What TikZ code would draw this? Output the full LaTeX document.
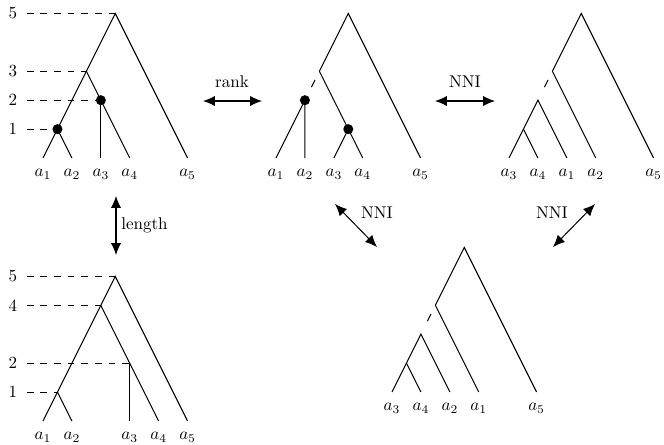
\documentclass[tikz,border=0pt]{standalone}
\usetikzlibrary{arrows.meta,calc}
\begin{document}
\begin{tikzpicture}[x=0.588pt,y=-0.588pt,
  edge/.style={line width=0.6pt},
  lev/.style={dash pattern=on 4pt off 4pt, line width=0.5pt},
  dotnode/.style={circle,fill,inner sep=0pt,minimum size=5.9pt},
  lbl/.style={inner sep=0pt},
  num/.style={inner sep=0pt},
  move/.style={{Latex[length=7pt,width=6pt]}-{Latex[length=7pt,width=6pt]}, line width=0.6pt},
  tree/.style={x=17pt,y=17pt}]
\useasboundingbox (0,0) rectangle (664,444);

% ---------- Tree 1 (top left) ----------
\begin{scope}[shift={(43,158)},tree]
  \coordinate (t1r) at (2.5,5);
  \coordinate (t1n3) at (1.5,3);
  \coordinate (t1n2) at (2,2);
  \coordinate (t1n1) at (0.5,1);
  \coordinate (t1l1) at (0,0);
  \coordinate (t1l2) at (1,0);
  \coordinate (t1l3) at (2,0);
  \coordinate (t1l4) at (3,0);
  \coordinate (t1l5) at (5,0);
  \draw[edge] (t1l1) -- (t1r) -- (t1l5);
  \draw[edge] (t1n3) -- (t1l4);
  \draw[edge] (t1n2) -- (t1l3);
  \draw[edge] (t1n1) -- (t1l2);
  \node[num] (t1h5) at (-1.04,5) {5};
  \node[num] (t1h3) at (-1.04,3) {3};
  \node[num] (t1h2) at (-1.04,2) {2};
  \node[num] (t1h1) at (-1.04,1) {1};
  \draw[lev] ([xshift=5.5pt]t1h5.east) -- (t1r);
  \draw[lev] ([xshift=5.5pt]t1h3.east) -- (t1n3);
  \draw[lev] ([xshift=5.5pt]t1h2.east) -- (t1n2);
  \draw[lev] ([xshift=5.5pt]t1h1.east) -- (t1n1);
  \node[dotnode] (t1d2) at (t1n2) {};
  \node[dotnode] (t1d1) at (t1n1) {};
  \node[lbl] (t1a1) at (0,-0.57) {$a_1$};
  \node[lbl] (t1a2) at (1,-0.57) {$a_2$};
  \node[lbl] (t1a3) at (2,-0.57) {$a_3$};
  \node[lbl] (t1a4) at (3,-0.57) {$a_4$};
  \node[lbl] (t1a5) at (5,-0.57) {$a_5$};
\end{scope}

% ---------- Tree 2 (top middle) ----------
\begin{scope}[shift={(276,158)},tree]
  \coordinate (t2r) at (2.5,5);
  \coordinate (t2n3) at (1.5,3);
  \coordinate (t2n2) at (1,2);
  \coordinate (t2n1) at (2.5,1);
  \coordinate (t2l1) at (0,0);
  \coordinate (t2l2) at (1,0);
  \coordinate (t2l3) at (2,0);
  \coordinate (t2l4) at (3,0);
  \coordinate (t2l5) at (5,0);
  \draw[edge] (t2n3) -- (t2r) -- (t2l5);
  \draw[edge] (t2n3) -- (t2n1);
  \draw[edge] (t2l1) -- (t2n2) -- (t2l2);
  \draw[edge] (t2l3) -- (t2n1) -- (t2l4);
  \draw[edge] ($(t2n3)!0.3!(t2n2)$) -- ($(t2n3)!0.55!(t2n2)$);
  \node[dotnode] (t2d2) at (t2n2) {};
  \node[dotnode] (t2d1) at (t2n1) {};
  \node[lbl] (t2a1) at (0,-0.57) {$a_1$};
  \node[lbl] (t2a2) at (1,-0.57) {$a_2$};
  \node[lbl] (t2a3) at (2,-0.57) {$a_3$};
  \node[lbl] (t2a4) at (3,-0.57) {$a_4$};
  \node[lbl] (t2a5) at (5,-0.57) {$a_5$};
\end{scope}

% ---------- Tree 3 (top right) ----------
\begin{scope}[shift={(509,158)},tree]
  \coordinate (t3r) at (2.5,5);
  \coordinate (t3n3) at (1.5,3);
  \coordinate (t3n2) at (1,2);
  \coordinate (t3n1) at (0.5,1);
  \coordinate (t3l1) at (0,0);
  \coordinate (t3l2) at (1,0);
  \coordinate (t3l3) at (2,0);
  \coordinate (t3l4) at (3,0);
  \coordinate (t3l5) at (5,0);
  \draw[edge] (t3n3) -- (t3r) -- (t3l5);
  \draw[edge] (t3n3) -- (t3l4);
  \draw[edge] (t3l1) -- (t3n2) -- (t3l3);
  \draw[edge] (t3n1) -- (t3l2);
  \draw[edge] ($(t3n3)!0.3!(t3n2)$) -- ($(t3n3)!0.55!(t3n2)$);
  \node[lbl] (t3a1) at (0,-0.57) {$a_3$};
  \node[lbl] (t3a2) at (1,-0.57) {$a_4$};
  \node[lbl] (t3a3) at (2,-0.57) {$a_1$};
  \node[lbl] (t3a4) at (3,-0.57) {$a_2$};
  \node[lbl] (t3a5) at (5,-0.57) {$a_5$};
\end{scope}

% ---------- Tree 4 (bottom left) ----------
\begin{scope}[shift={(43,421)},tree]
  \coordinate (t4r) at (2.5,5);
  \coordinate (t4n4) at (2,4);
  \coordinate (t4n2) at (3,2);
  \coordinate (t4n1) at (0.5,1);
  \coordinate (t4l1) at (0,0);
  \coordinate (t4l2) at (1,0);
  \coordinate (t4l3) at (3,0);
  \coordinate (t4l4) at (4,0);
  \coordinate (t4l5) at (5,0);
  \draw[edge] (t4l1) -- (t4r) -- (t4l5);
  \draw[edge] (t4n4) -- (t4l4);
  \draw[edge] (t4n2) -- (t4l3);
  \draw[edge] (t4n1) -- (t4l2);
  \node[num] (t4h5) at (-1.04,5) {5};
  \node[num] (t4h4) at (-1.04,4) {4};
  \node[num] (t4h2) at (-1.04,2) {2};
  \node[num] (t4h1) at (-1.04,1) {1};
  \draw[lev] ([xshift=5.5pt]t4h5.east) -- (t4r);
  \draw[lev] ([xshift=5.5pt]t4h4.east) -- (t4n4);
  \draw[lev] ([xshift=5.5pt]t4h2.east) -- (t4n2);
  \draw[lev] ([xshift=5.5pt]t4h1.east) -- (t4n1);
  \node[lbl] (t4a1) at (0,-0.57) {$a_1$};
  \node[lbl] (t4a2) at (1,-0.57) {$a_2$};
  \node[lbl] (t4a3) at (3,-0.57) {$a_3$};
  \node[lbl] (t4a4) at (4,-0.57) {$a_4$};
  \node[lbl] (t4a5) at (5,-0.57) {$a_5$};
\end{scope}

% ---------- Tree 5 (bottom middle) ----------
\begin{scope}[shift={(392,392)},tree]
  \coordinate (t5r) at (2.5,5);
  \coordinate (t5n3) at (1.5,3);
  \coordinate (t5n2) at (1,2);
  \coordinate (t5n1) at (0.5,1);
  \coordinate (t5l1) at (0,0);
  \coordinate (t5l2) at (1,0);
  \coordinate (t5l3) at (2,0);
  \coordinate (t5l4) at (3,0);
  \coordinate (t5l5) at (5,0);
  \draw[edge] (t5n3) -- (t5r) -- (t5l5);
  \draw[edge] (t5n3) -- (t5l4);
  \draw[edge] (t5l1) -- (t5n2) -- (t5l3);
  \draw[edge] (t5n1) -- (t5l2);
  \draw[edge] ($(t5n3)!0.3!(t5n2)$) -- ($(t5n3)!0.55!(t5n2)$);
  \node[lbl] (t5a1) at (0,-0.57) {$a_3$};
  \node[lbl] (t5a2) at (1,-0.57) {$a_4$};
  \node[lbl] (t5a3) at (2,-0.57) {$a_2$};
  \node[lbl] (t5a4) at (3,-0.57) {$a_1$};
  \node[lbl] (t5a5) at (5,-0.57) {$a_5$};
\end{scope}

% ---------- moves ----------
\coordinate (rankA) at (203,101);
\coordinate (rankB) at (262,101);
\draw[move] (rankA) -- (rankB);
\node[lbl] (rankL) at (232,82) {rank};

\coordinate (nniA) at (435,101);
\coordinate (nniB) at (495,101);
\draw[move] (nniA) -- (nniB);
\node[lbl] (nniL) at (465,82) {NNI};

\coordinate (lenA) at (116,196);
\coordinate (lenB) at (116,255);
\draw[move] (lenA) -- (lenB);
\node[lbl,anchor=west] (lenL) at (121,225) {length};

\coordinate (dlA) at (335,204);
\coordinate (dlB) at (377,247);
\draw[move] (dlA) -- (dlB);
\node[lbl] (dlL) at (377,213) {NNI};

\coordinate (drA) at (595,204);
\coordinate (drB) at (553,247);
\draw[move] (drA) -- (drB);
\node[lbl] (drL) at (552,213) {NNI};
\end{tikzpicture}
\end{document}
